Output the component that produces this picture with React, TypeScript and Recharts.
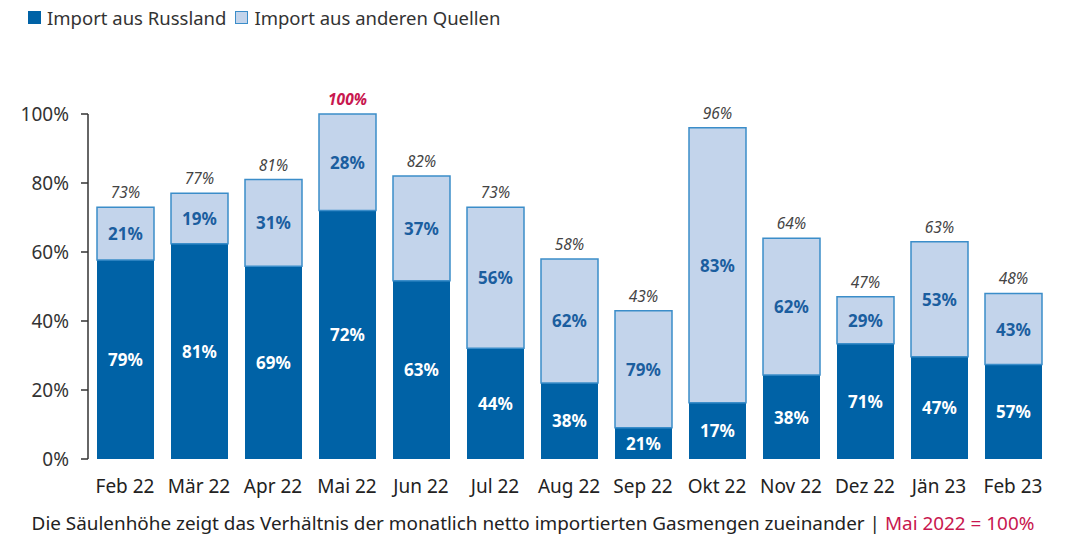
import { BarChart, Bar, XAxis, YAxis, LabelList } from "recharts";

const months = ["Feb 22", "Mär 22", "Apr 22", "Mai 22", "Jun 22", "Jul 22", "Aug 22", "Sep 22", "Okt 22", "Nov 22", "Dez 22", "Jän 23", "Feb 23"];
const totals = [73, 77, 81, 100, 82, 73, 58, 43, 96, 64, 47, 63, 48];
const russiaShare = [79, 81, 69, 72, 63, 44, 38, 21, 17, 38, 71, 47, 57];
const otherShare = [21, 19, 31, 28, 37, 56, 62, 79, 83, 62, 29, 53, 43];
const yTicks = [0, 20, 40, 60, 80, 100];
const boundaryTicks = [0, 1, 2, 3, 4, 5, 6, 7, 8, 9, 10, 11, 12, 13];

const DARK = "#0062a6";
const LIGHT = "#c3d4eb";
const LIGHT_STROKE = "#3b8dc9";
const LABEL_BLUE = "#1b5e9f";
const CRIMSON = "#c8174f";
const AXIS = "#333333";
const FONT = "'Noto Sans', sans-serif";

// Säulenhöhe = Gesamtmenge, aufgeteilt nach Anteilen
const data = months.map((m, i) => ({
  month: m,
  ru: (totals[i] * russiaShare[i]) / 100,
  other: (totals[i] * otherShare[i]) / 100,
}));

const ShareLabel = (shares: number[], color: string) => (props: any) => {
  const { x, y, width, height, index } = props;
  return (
    <text
      x={x + width / 2}
      y={y + height / 2}
      textAnchor="middle"
      dominantBaseline="central"
      fill={color}
      fontSize={17}
      fontWeight={700}
      fontFamily={FONT}
    >
      {shares[index]}%
    </text>
  );
};

const TotalLabel = (props: any) => {
  const { x, y, width, index } = props;
  const peak = totals[index] === 100;
  return (
    <text
      x={x + width / 2}
      y={y - 9}
      textAnchor="middle"
      fill={peak ? CRIMSON : "#444"}
      fontSize={15.5}
      fontStyle="italic"
      fontWeight={peak ? 700 : 400}
      fontFamily={FONT}
    >
      {totals[index]}%
    </text>
  );
};

export default function App() {
  return (
    <div style={{ position: "absolute", left: 0, top: 0, width: 1066, height: 536, background: "#fff", fontFamily: FONT }}>
      <div style={{ position: "absolute", left: 28, top: 5, display: "flex", alignItems: "center", fontSize: 18.5, color: "#333" }}>
        <span style={{ width: 13, height: 13, background: DARK, display: "inline-block", marginRight: 6 }} />
        <span style={{ marginRight: 9 }}>Import aus Russland</span>
        <span style={{ width: 11, height: 11, background: LIGHT, border: `1px solid ${LIGHT_STROKE}`, display: "inline-block", marginRight: 6 }} />
        <span>Import aus anderen Quellen</span>
      </div>
      <BarChart width={1066} height={536} data={data} margin={{ top: 114, right: 16, bottom: 0, left: 0 }}>
        <XAxis
          xAxisId="grid"
          type="number"
          domain={[0, 13]}
          ticks={boundaryTicks}
          tick={false}
          height={0}
          tickSize={8}
          axisLine={{ stroke: AXIS, strokeWidth: 1.5 }}
          tickLine={{ stroke: AXIS, strokeWidth: 1.5 }}
        />
        <XAxis
          dataKey="month"
          height={77}
          axisLine={false}
          tickLine={false}
          tickSize={0}
          tickMargin={21}
          interval={0}
          tick={{ fontSize: 19, fill: "#222", fontFamily: FONT }}
        />
        <YAxis
          width={88}
          domain={[0, 100]}
          ticks={yTicks}
          tickFormatter={(v) => `${v}%`}
          tickSize={7}
          tickMargin={12}
          axisLine={{ stroke: AXIS, strokeWidth: 1.5 }}
          tickLine={{ stroke: AXIS, strokeWidth: 1.5 }}
          tick={{ fontSize: 19, fill: "#333", fontFamily: FONT }}
        />
        <Bar dataKey="ru" stackId="a" fill={DARK} barSize={57} isAnimationActive={false}>
          <LabelList dataKey="ru" content={ShareLabel(russiaShare, "#ffffff")} />
        </Bar>
        <Bar dataKey="other" stackId="a" fill={LIGHT} stroke={LIGHT_STROKE} strokeWidth={1.5} barSize={57} isAnimationActive={false}>
          <LabelList dataKey="other" content={ShareLabel(otherShare, LABEL_BLUE)} />
          <LabelList dataKey="other" content={TotalLabel} />
        </Bar>
      </BarChart>
      <div style={{ position: "absolute", left: 0, top: 510, width: 1066, textAlign: "center", fontSize: 18.9, color: "#222" }}>
        Die Säulenhöhe zeigt das Verhältnis der monatlich netto importierten Gasmengen zueinander |{" "}
        <span style={{ color: CRIMSON }}>Mai 2022 = 100%</span>
      </div>
    </div>
  );
}
